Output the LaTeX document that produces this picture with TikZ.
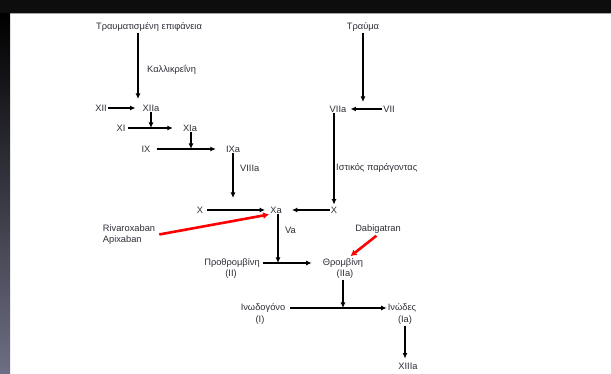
\documentclass[tikz,border=0pt]{standalone}
\usepackage{fontspec}
\setmainfont{Liberation Sans}
\usetikzlibrary{arrows.meta}
\definecolor{txt}{HTML}{2E2E38}
\definecolor{barlow}{HTML}{6E6E84}
\definecolor{barmid}{HTML}{24244A}

\begin{document}
\begin{tikzpicture}[x=1pt,y=-1pt,every node/.style={font=\fontsize{9.3}{11}\selectfont,text=txt,inner sep=1pt},
      arr/.style={draw=black,line width=1.1pt,-{Latex[length=5.5pt,width=5pt]}},
      redarr/.style={draw=red,line width=2.6pt,-{Latex[length=6pt,width=7pt]}}]
      \useasboundingbox (0,0) rectangle (611,374);
      \fill[white] (0,0) rectangle (611,374);
      \shade[top color=black,middle color=barmid,bottom color=barlow] (0,13) rectangle (10,374);
      \fill[black!95] (0,0) rectangle (611,13);
      \draw[gray!70,line width=0.6pt] (10,13.3) -- (611,13.3);
      \node (ts) at (149,27) {Τραυματισμένη επιφάνεια};
      \node (tr) at (363,27) {Τραύμα};
      \node[anchor=west] (kal) at (146,70) {Καλλικρεΐνη};
      \node (xii) at (101,108) {XII};
      \node (xiia) at (151,108) {XIIa};
      \node (xi) at (121,128) {XI};
      \node (xia) at (190,128) {XIa};
      \node (ix) at (146,149) {IX};
      \node (ixa) at (233,149) {IXa};
      \node[anchor=west] (viiia) at (239,168) {VIIIa};
      \node (viia) at (338,109) {VIIa};
      \node (vii) at (389,109) {VII};
      \node[anchor=west] (tf) at (335,168) {Ιστικός παράγοντας};
      \node (xl) at (200,210) {X};
      \node (xa) at (276,210) {Xa};
      \node (xr) at (334,210) {X};
      \node[anchor=west] (va) at (284,230) {Va};
      \node[align=left] (riva) at (129,235) {Rivaroxaban\\Apixaban};
      \node (dab) at (378,229) {Dabigatran};
      \node (pro) at (232,263) {Προθρομβίνη};
      \node (proii) at (231,274) {(II)};
      \node (thr) at (343,263) {Θρομβίνη};
      \node (thria) at (345,274) {(IIa)};
      \node (fib) at (263,308) {Ινωδογόνο};
      \node (fibi) at (260,320) {(I)};
      \node (fbr) at (402,308) {Ινώδες};
      \node (fbria) at (405,320) {(Ia)};
      \node (xiiia) at (408,366) {XIIIa};
      \coordinate (j1) at (138,108);
      \coordinate (j2) at (363,109);
      \coordinate (j3) at (151,128);
      \coordinate (j4) at (191,149);
      \coordinate (j5) at (278,263);
      \coordinate (j6) at (343,308);
      \draw[arr,shorten >=9pt] (ts.south -| j1) -- (j1);
      \draw[arr,shorten >=7pt] (tr.south) -- (j2);
      \draw[arr,shorten >=6pt] (xii) -- (xiia);
      \draw[arr,shorten >=3pt] (vii) -- (viia);
      \draw[arr,shorten <=1pt,shorten >=9pt] (xi) -- (xia);
      \draw[arr] (xiia.south -| j3) -- (j3);
      \draw[arr,shorten <=5pt,shorten >=9pt] (ix) -- (ixa);
      \draw[arr] (xia.south -| j4) -- (j4);
      \draw[arr,shorten >=12pt] (ixa.south) -- (ixa |- xl);
      \draw[arr,shorten >=1pt] (viia.south -| xr) -- (xr.north);
      \draw[arr,shorten <=3pt,shorten >=4pt] (xl) -- (xa);
      \draw[arr,shorten >=9pt] (xr) -- (xa);
      \draw[arr] (xa.south -| j5) -- (j5);
      \draw[arr,shorten <=2pt,shorten >=10pt] (pro) -- (thr);
      \draw[arr] (thria.south -| j6) -- (j6);
      \draw[arr,shorten <=4pt] (fib) -- (fbr);
      \draw[arr,shorten >=3pt] (fbria.south) -- (fbria |- xiiia.north);
      \draw[redarr,shorten <=3pt] (riva.east) -- (xa.south west);
      \draw[redarr,shorten <=2pt,shorten >=2pt] (dab.south) -- ([xshift=6pt]thr.north);
\end{tikzpicture}
\end{document}
